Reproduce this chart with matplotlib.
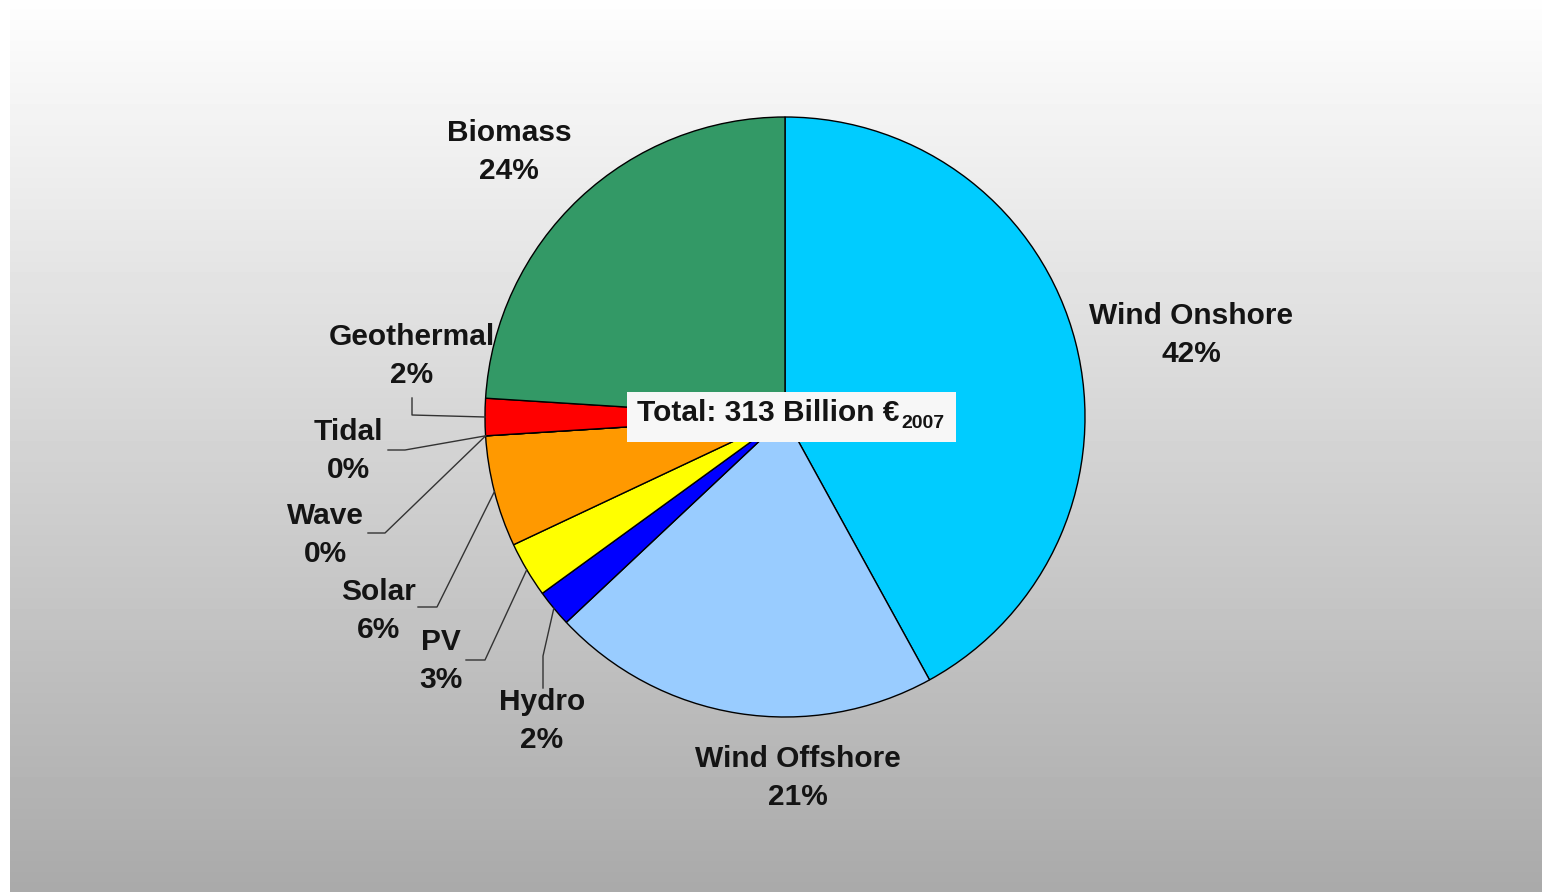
import numpy as np
import matplotlib.pyplot as plt
from matplotlib.patches import Rectangle

# Investment by technology, share of total
sources = ['Wind Onshore', 'Wind Offshore', 'Hydro', 'PV', 'Solar',
           'Wave', 'Tidal', 'Geothermal', 'Biomass']
shares = [42, 21, 2, 3, 6, 0, 0, 2, 24]
colors = ['#00CCFF', '#99CCFF', '#0000FF', '#FFFF00', '#FF9900',
          '#FF9900', '#FF9900', '#FF0000', '#339966']
total_text = 'Total: 313 Billion €'
total_sub = '2007'

# Label centres in pixels (x, y from top); pie centre (785, 417), radius 300
label_pos = {
    'Wind Onshore': (1191, 335),
    'Wind Offshore': (798, 778),
    'Hydro': (542, 721),
    'PV': (441, 661),
    'Solar': (379, 611),
    'Wave': (325, 535),
    'Tidal': (348, 451),
    'Geothermal': (412, 356),
    'Biomass': (509, 152),
}
# Leader lines: label end and elbow, in pixels
leaders = {
    'Geothermal': [(412, 398), (412, 415)],
    'Tidal': [(388, 450), (405, 450)],
    'Wave': [(368, 533), (385, 533)],
    'Solar': [(418, 607), (437, 607)],
    'PV': [(466, 660), (485, 660)],
    'Hydro': [(543, 688), (543, 656)],
}

CX, CY, R = 785, 417, 300


def px(p):
    return (p[0] - CX) / R, (CY - p[1]) / R


plt.rcParams['font.family'] = ['Liberation Sans', 'DejaVu Sans']

fig = plt.figure(figsize=(15.42, 8.92), dpi=100)

# grey gradient backdrop
bg = fig.add_axes([0, 0, 1, 1], zorder=0)
grad = np.linspace(0.995, 0.665, 256).reshape(-1, 1)
bg.imshow(grad, cmap='gray', vmin=0, vmax=1, aspect='auto',
          extent=[10 / 1542, 1, 0, 1], interpolation='bicubic')
bg.set_xlim(0, 1)
bg.set_ylim(0, 1)
bg.axis('off')

W, H = 1542, 892
ax = fig.add_axes([(CX - R) / W, (H - CY - R) / H, 2 * R / W, 2 * R / H], zorder=1)
wedges, _ = ax.pie(shares, colors=colors, startangle=90, counterclock=False,
                   radius=1, wedgeprops=dict(edgecolor='black', linewidth=1.0))
ax.set_xlim(-1, 1)
ax.set_ylim(-1, 1)
ax.set_aspect('equal')
ax.axis('off')

for w, name, val in zip(wedges, sources, shares):
    lx, ly = px(label_pos[name])
    ax.text(lx, ly, f'{name}\n{val}%', ha='center', va='center',
            fontsize=21.5, fontweight='bold', color='#141414',
            linespacing=1.45, clip_on=False)
    if name in leaders:
        mid = np.deg2rad((w.theta1 + w.theta2) / 2)
        pts = [px(p) for p in leaders[name]] + [(np.cos(mid), np.sin(mid))]
        xs, ys = zip(*pts)
        ax.plot(xs, ys, color='#333333', lw=1.0, clip_on=False)

# total box
bx0, by0 = px((627, 442))
bx1, by1 = px((956, 392))
ax.add_patch(Rectangle((bx0, by0), bx1 - bx0, by1 - by0, facecolor='#F7F7F7',
                       edgecolor='none', zorder=5, clip_on=False))
tx, ty = px((637, 413))
t = ax.text(tx, ty, total_text, ha='left', va='center', fontsize=21.5,
            fontweight='bold', color='#141414', zorder=6)
fig.canvas.draw()
ext = t.get_window_extent()
sx, sy = ax.transData.inverted().transform((ext.x1 + 2, ext.y0 + 3))
ax.text(sx, sy, total_sub, ha='left', va='center', fontsize=14,
        fontweight='bold', color='#141414', zorder=6)

fig.savefig('out.png', dpi=100)
